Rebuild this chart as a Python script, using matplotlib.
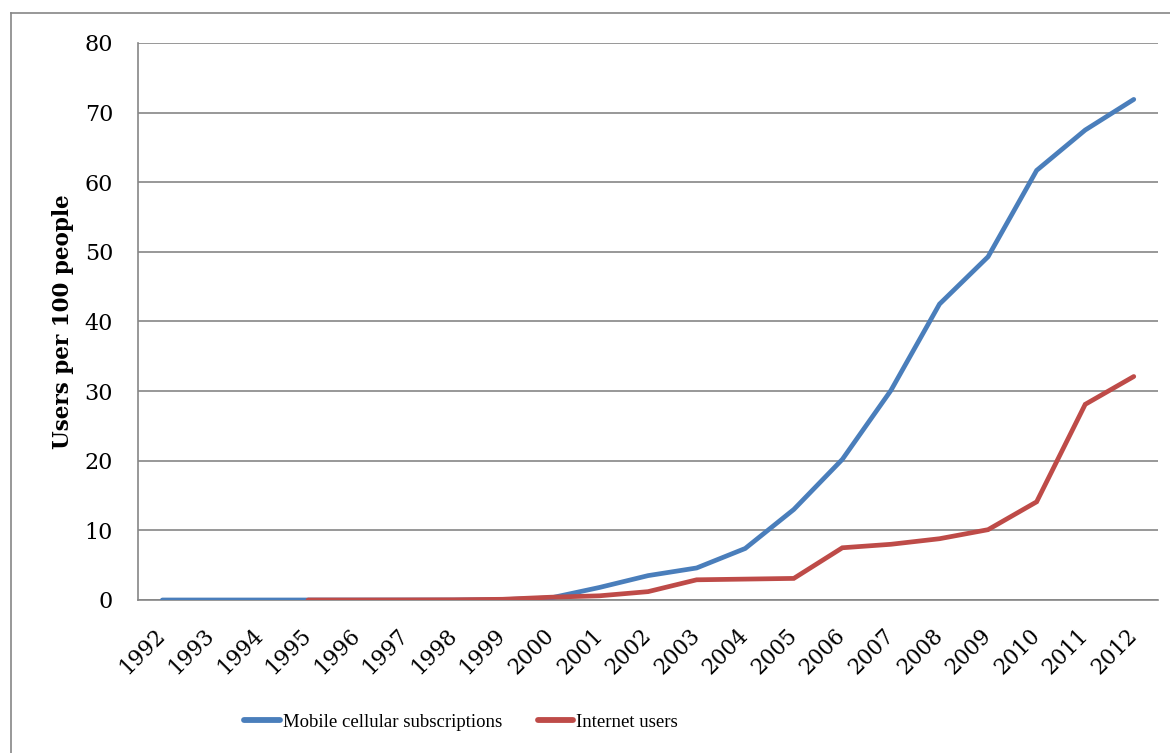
import numpy as np
import matplotlib
matplotlib.use("Agg")
import matplotlib.pyplot as plt
from matplotlib.lines import Line2D

years = [str(y) for y in range(1992, 2013)]
mobile = [0.0, 0.0, 0.0, 0.0, 0.0, 0.0, 0.0, 0.05, 0.3, 1.8, 3.5, 4.6, 7.4,
          13.0, 20.2, 30.1, 42.5, 49.3, 61.7, 67.5, 71.9]
internet = [np.nan, np.nan, np.nan, 0.0, 0.0, 0.01, 0.03, 0.1, 0.4, 0.6, 1.2,
            2.9, 3.0, 3.1, 7.5, 8.0, 8.8, 10.1, 14.1, 28.1, 32.1]
yticks = [0, 10, 20, 30, 40, 50, 60, 70, 80]

BLUE = "#4A7EBB"
RED = "#BE4B48"
GRID = "#868686"

fig = plt.figure(figsize=(11.70, 7.53), dpi=100)
ax = fig.add_axes([0.118, 0.2032, 0.8718, 0.7397])

x = np.arange(len(years))
ax.plot(x, mobile, color=BLUE, lw=3.4, solid_capstyle="round",
        solid_joinstyle="miter", label="Mobile cellular subscriptions", zorder=3)
ax.plot(x, internet, color=RED, lw=3.4, solid_capstyle="round",
        solid_joinstyle="miter", label="Internet users", zorder=4)

ax.set_xlim(-0.5, len(years) - 0.5)
ax.set_ylim(0, 80)
ax.set_yticks(yticks)
ax.set_yticklabels([str(v) for v in yticks], family="DejaVu Serif", fontsize=16)
ax.set_xticks(x)
ax.set_xticklabels(years, family="DejaVu Serif", fontsize=15.5,
                   rotation=45, ha="right", va="center", rotation_mode="anchor")
ax.tick_params(axis="both", length=0)
ax.tick_params(axis="y", pad=18)
ax.tick_params(axis="x", pad=23)

ax.yaxis.grid(True, color=GRID, lw=1.2)
ax.set_axisbelow(True)
for s in ["top", "right"]:
    ax.spines[s].set_visible(False)
ax.spines["left"].set_color(GRID)
ax.spines["left"].set_linewidth(1.2)
ax.spines["bottom"].set_color(GRID)
ax.spines["bottom"].set_linewidth(1.2)

ax.set_ylabel("Users per 100 people", family="DejaVu Serif", fontweight="bold",
              fontsize=15.5)
ax.yaxis.set_label_coords(-0.063, 0.5)

leg = fig.legend(loc="center", bbox_to_anchor=(0.394, 0.0412), ncol=2,
                 frameon=False, prop={"family": "Liberation Serif", "size": 13.5},
                 handlelength=1.9, handletextpad=0.15, columnspacing=1.9)
for h in leg.legend_handles:
    h.set_linewidth(4.2)

# outer chart border (top and left edges visible)
fig.add_artist(Line2D([11 / 1170, 11 / 1170], [0, 1 - 13 / 753],
                      transform=fig.transFigure, color=GRID, lw=1.2))
fig.add_artist(Line2D([11 / 1170, 1], [1 - 13 / 753, 1 - 13 / 753],
                      transform=fig.transFigure, color=GRID, lw=1.2))

fig.savefig("out.png", dpi=100)
